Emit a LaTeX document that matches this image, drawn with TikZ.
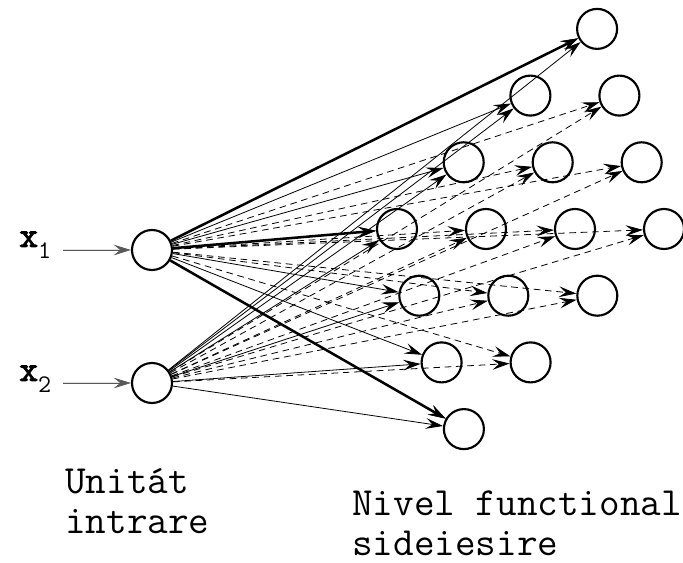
\documentclass[tikz,border=0pt]{standalone}
\usepackage{fontspec}
\usetikzlibrary{arrows.meta}

\newfontfamily\xmono{lmmono10-regular.otf}[FakeBold=2.5]
\newcommand\xsub[1]{\raisebox{-8.5pt}{\ttfamily\fontsize{19}{19}\selectfont #1}}

\tikzset{
  neuron/.style={circle, draw, line width=1.6pt, minimum size=30pt, inner sep=0pt},
  link/.style={-{Stealth[length=13pt,width=8pt,inset=5pt]}, line width=0.6pt},
  dlink/.style={link, dash pattern=on 5pt off 3.5pt},
  tlink/.style={link, line width=1.9pt},
  inlink/.style={link, draw=black!65, fill=black},
  lbl/.style={font=\ttfamily\fontsize{30}{30}\selectfont, inner sep=0pt, align=left, anchor=base west},
  xlbl/.style={font=\xmono\fontsize{27}{27}\selectfont, inner sep=0pt, anchor=base west},
}

\begin{document}
\begin{tikzpicture}[x=0.75pt,y=0.75pt,yscale=-1,xscale=1]
      \useasboundingbox (0,0) rectangle (683,563);

      % input units
      \node[neuron] (in1) at (152,250) {};
      \node[neuron] (in2) at (152,383) {};
      \coordinate (s1) at (63,250);
      \coordinate (s2) at (63,383);
      \draw[inlink] (s1) -- (in1);
      \draw[inlink] (s2) -- (in2);
      \node[xlbl] (lx1) at (19,247) {x\xsub{1}};
      \node[xlbl] (lx2) at (19,381) {x\xsub{2}};

      % 4x4 layer, drawn in oblique view
      \foreach \i in {0,...,3}
        \foreach \j in {0,...,3}
          \node[neuron] (o\i\j) at ({397+66.7*\i+22.3*\j},{229-66.7*\i+66.7*\j}) {};

      % links: solid to the front edges, dashed to the rest
      \foreach \i in {0,...,3}
        \foreach \j in {0,...,3}{
          \ifnum\numexpr\i*\j\relax=0 \def\lnk{link}\else\def\lnk{dlink}\fi
          \draw[\lnk] (in1) -- (o\i\j);
          \draw[\lnk] (in2) -- (o\i\j);
        }
      \draw[tlink] (in1) -- (o30);
      \draw[tlink] (in1) -- (o00);
      \draw[tlink] (in1) -- (o03);

      % Text Node (anchored on the last line)
      \node[lbl] (unit) at (65,533) {Unitát\\intrare};
      % Text Node
      \node[lbl] (nivel) at (352,555) {Nivel functional\\sideiesire};
\end{tikzpicture}
\end{document}
